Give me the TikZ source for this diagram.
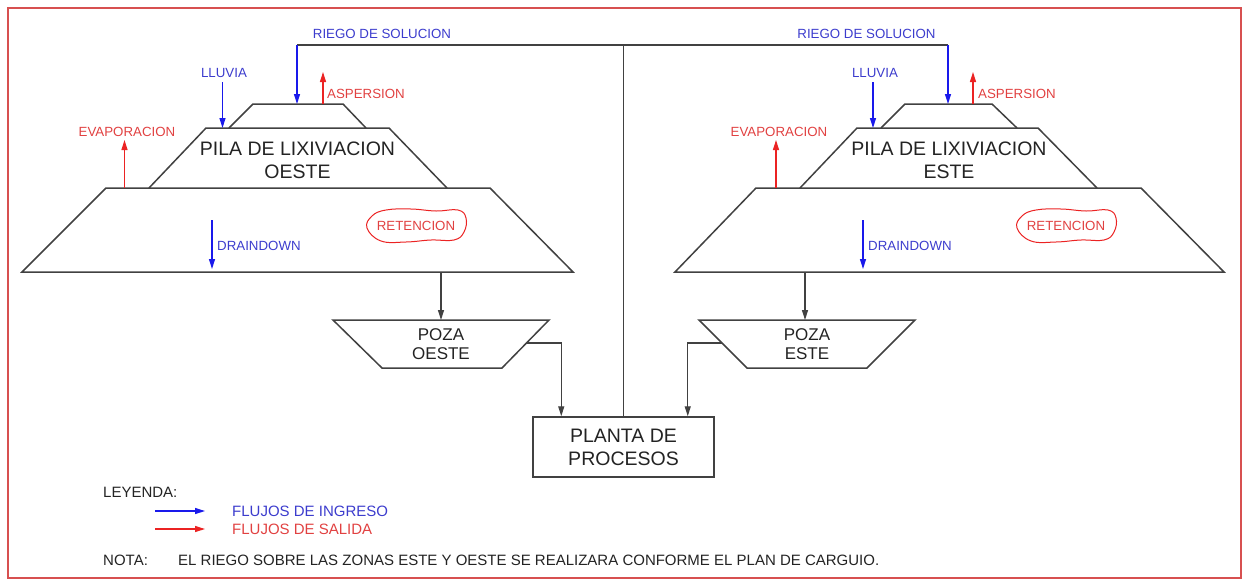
\documentclass[tikz,border=0pt]{standalone}
\usepackage{fontspec}
\setmainfont{Liberation Sans}
\usetikzlibrary{arrows.meta, positioning, calc}
\definecolor{inblue}{RGB}{25,25,235}
\definecolor{inbluetxt}{RGB}{60,60,205}
\definecolor{outred}{RGB}{235,35,35}
\definecolor{outredtxt}{RGB}{225,65,65}
\definecolor{framered}{RGB}{215,80,80}
\definecolor{linegray}{RGB}{65,65,65}
\definecolor{textgray}{RGB}{35,35,35}

\tikzset{
  wall/.style={draw=linegray, line width=1.5pt, line join=miter},
  pipe/.style={linegray, line width=1.3pt},
  inflow/.style={inblue, line width=1.3pt, ->},
  outflow/.style={outred, line width=1.2pt, ->},
  lbl/.style={inner sep=0pt, font=\fontsize{13.3}{15}\selectfont},
  inlabel/.style={lbl, text=inbluetxt},
  outlabel/.style={lbl, text=outredtxt},
  bigtext/.style={inner sep=0pt, align=center, text=textgray, font=\fontsize{19.5}{23}\selectfont},
  pozatext/.style={inner sep=0pt, align=center, text=textgray, font=\fontsize{17}{19}\selectfont},
  legtext/.style={inner sep=0pt, anchor=west, text=textgray, font=\fontsize{15}{17}\selectfont},
}

\begin{document}
\begin{tikzpicture}[x=1pt, y=-1pt, >={Triangle[length=10pt, width=6pt]}]
  \useasboundingbox (0,0) rectangle (1242,579);
  \draw[framered, line width=1.5pt] (8,8) rectangle (1241,578);

  % pila oeste
  \draw[wall] (22,272) -- (106,188) -- (490,188) -- (573,272) -- cycle;
  \draw[wall] (149,188) -- (206,128) -- (389,128) -- (447,188);
  \draw[wall] (229,128) -- (253,104) -- (343,104) -- (366,128);
  \node[bigtext] (pilaO) at (297.5,160.5) {PILA DE LIXIVIACION\\OESTE};

  % pila este
  \draw[wall] (675,272) -- (756,188) -- (1141,188) -- (1224,272) -- cycle;
  \draw[wall] (800,188) -- (857,128) -- (1038,128) -- (1097,188);
  \draw[wall] (881,128) -- (905,104) -- (992,104) -- (1017,128);
  \node[bigtext] (pilaE) at (949,160.5) {PILA DE LIXIVIACION\\ESTE};

  % pozas y planta
  \draw[wall] (333,320) -- (549,320) -- (502,368) -- (382,368) -- cycle;
  \node[pozatext] (pozaO) at (441,344.5) {POZA\\OESTE};
  \draw[wall] (699,320) -- (915,320) -- (867,368) -- (747,368) -- cycle;
  \node[pozatext] (pozaE) at (807,344.5) {POZA\\ESTE};
  \node[draw=linegray, line width=1.5pt, minimum width=181pt, minimum height=60pt,
        align=center, text=textgray, font=\fontsize{19.5}{23}\selectfont] (planta) at (623.5,447) {PLANTA DE\\PROCESOS};

  % riego de solucion
  \coordinate (split) at (623.5,45);
  \coordinate (riegoOtop) at (297,45);
  \coordinate (riegoO) at (297,104);
  \coordinate (riegoEtop) at (948,45);
  \coordinate (riegoE) at (948,104);
  \draw[pipe] (riegoOtop) -- (riegoEtop);
  \draw[pipe] (planta.north) -- (split);
  \draw[inflow] (riegoOtop) -- (riegoO);
  \draw[inflow] (riegoEtop) -- (riegoE);
  \node[inlabel] (riegoOlbl) at (382,34) {RIEGO DE SOLUCION};
  \node[inlabel] (riegoElbl) at (866.5,34) {RIEGO DE SOLUCION};

  % lluvia
  \coordinate (lluviaOtop) at (222.5,82);
  \coordinate (lluviaO) at (222.5,128);
  \coordinate (lluviaEtop) at (873,82);
  \coordinate (lluviaE) at (873,128);
  \draw[inflow] (lluviaOtop) -- (lluviaO);
  \draw[inflow] (lluviaEtop) -- (lluviaE);
  \node[inlabel] (lluviaOlbl) at (224,73) {LLUVIA};
  \node[inlabel] (lluviaElbl) at (875,73) {LLUVIA};

  % aspersion
  \coordinate (asperO) at (323,104);
  \coordinate (asperOtip) at (323,72);
  \coordinate (asperE) at (973,104);
  \coordinate (asperEtip) at (973,72);
  \draw[outflow] (asperO) -- (asperOtip);
  \draw[outflow] (asperE) -- (asperEtip);
  \node[outlabel, anchor=west] (asperOlbl) at (327,94) {ASPERSION};
  \node[outlabel, anchor=west] (asperElbl) at (978,94) {ASPERSION};

  % evaporacion
  \coordinate (evapO) at (124.5,188);
  \coordinate (evapOtip) at (124.5,140);
  \coordinate (evapE) at (776,188);
  \coordinate (evapEtip) at (776,140);
  \draw[outflow] (evapO) -- (evapOtip);
  \draw[outflow] (evapE) -- (evapEtip);
  \node[outlabel] (evapOlbl) at (127,132) {EVAPORACION};
  \node[outlabel] (evapElbl) at (779,132) {EVAPORACION};

  % draindown
  \coordinate (drainOtop) at (212,220);
  \coordinate (drainO) at (212,269);
  \coordinate (drainEtop) at (863,220);
  \coordinate (drainE) at (863,269);
  \draw[inflow] (drainOtop) -- (drainO);
  \draw[inflow] (drainEtop) -- (drainE);
  \node[inlabel, anchor=west] (drainOlbl) at (217,246) {DRAINDOWN};
  \node[inlabel, anchor=west] (drainElbl) at (868,246) {DRAINDOWN};

  % retencion
  \node[outlabel] (retO) at (416,226) {RETENCION};
  \node[outlabel] (retE) at (1066,226) {RETENCION};
  \draw[outred, line width=1pt, shift={(retO.center)}] plot[smooth cycle, tension=0.7] coordinates
    {(-49,2) (-44,-10) (-30,-16) (-5,-17) (20,-15) (42,-16) (50,-8) (48,6) (38,14) (15,14) (-10,16) (-35,15)};
  \draw[outred, line width=1pt, shift={(retE.center)}] plot[smooth cycle, tension=0.7] coordinates
    {(-49,2) (-44,-10) (-30,-16) (-5,-17) (20,-15) (42,-16) (50,-8) (48,6) (38,14) (15,14) (-10,16) (-35,15)};

  % salidas a pozas y planta
  \coordinate (baseO) at (441,272);
  \coordinate (pozaOtop) at (441,320);
  \coordinate (baseE) at (805,272);
  \coordinate (pozaEtop) at (805,320);
  \draw[pipe, ->] (baseO) -- (pozaOtop);
  \draw[pipe, ->] (baseE) -- (pozaEtop);
  \coordinate (pozaOout) at (526,343);
  \coordinate (pozaEout) at (722,343);
  \draw[pipe, ->] (pozaOout) -| ([xshift=29pt]planta.north west);
  \draw[pipe, ->] (pozaEout) -| ([xshift=-27pt]planta.north east);

  % leyenda
  \node[legtext] (leyenda) at (103,492) {LEYENDA:};
  \coordinate (legInA) at (155,511);
  \coordinate (legInB) at (205,511);
  \coordinate (legOutA) at (155,529);
  \coordinate (legOutB) at (205,529);
  \draw[inflow] (legInA) -- (legInB);
  \draw[outflow] (legOutA) -- (legOutB);
  \node[legtext, text=inbluetxt] (legIn) at (232,511) {FLUJOS DE INGRESO};
  \node[legtext, text=outredtxt] (legOut) at (232,529) {FLUJOS DE SALIDA};
  \node[legtext] (nota) at (103,560) {NOTA:};
  \node[legtext] (notatxt) at (178,560) {EL RIEGO SOBRE LAS ZONAS ESTE Y OESTE SE REALIZARA CONFORME EL PLAN DE CARGUIO.};
\end{tikzpicture}
\end{document}
